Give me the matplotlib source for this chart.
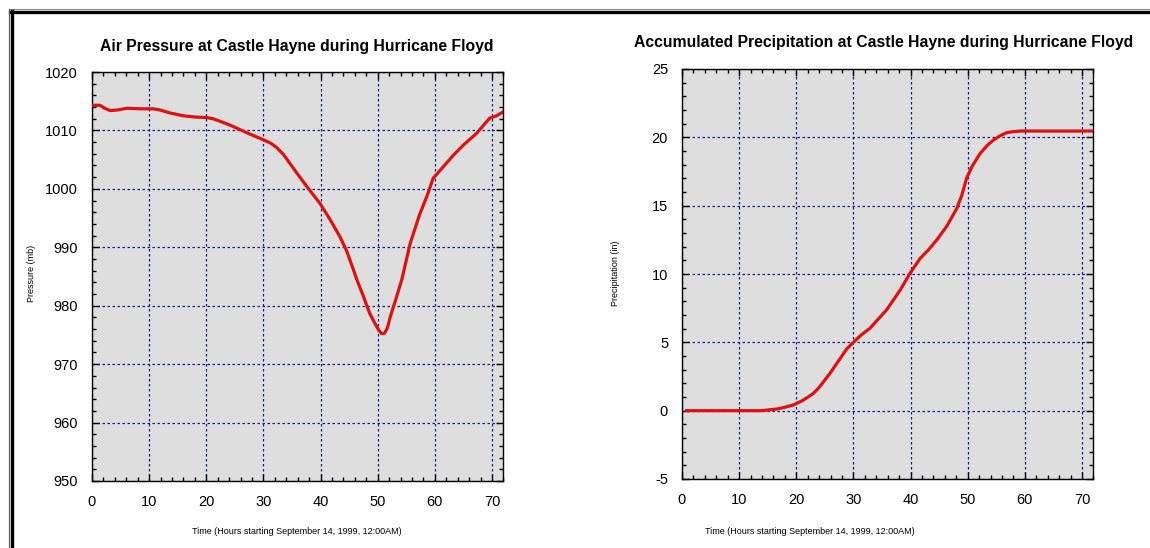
import matplotlib
matplotlib.use("Agg")
import matplotlib.pyplot as plt
from matplotlib.lines import Line2D
from matplotlib.ticker import MultipleLocator

plt.rcParams['font.family'] = ['Liberation Sans', 'DejaVu Sans']
plt.rcParams['axes.unicode_minus'] = False

# ---- data ----
p_hours = [0.2, 1.4, 2.2, 3.2, 4.5, 6.1, 8.5, 10.7, 11.9, 13.6, 16.0, 18.0, 20.1, 21.2,
           24.2, 27.1, 30.0, 31.3, 32.3, 33.5, 34.6, 36.0, 37.6, 39.9, 41.7, 43.4, 44.6,
           45.7, 46.3, 47.5, 48.6, 49.5, 50.2, 50.7, 51.2, 51.7, 52.2, 53.2, 54.2, 55.7,
           57.3, 58.6, 59.7, 61.5, 63.2, 65.0, 67.3, 69.6, 70.8, 72.0]
pressure = [1014.3, 1014.3, 1013.8, 1013.4, 1013.5, 1013.8, 1013.7, 1013.7, 1013.5,
            1013.0, 1012.5, 1012.3, 1012.2, 1012.0, 1010.9, 1009.6, 1008.4, 1007.8,
            1007.1, 1005.9, 1004.4, 1002.5, 1000.4, 997.5, 994.7, 991.8, 989.3,
            986.3, 984.6, 981.6, 978.7, 977.0, 975.8, 975.2, 975.3, 976.2, 978.1,
            981.2, 984.4, 990.7, 995.5, 998.7, 1001.8, 1003.8, 1005.7, 1007.5, 1009.5,
            1012.1, 1012.5, 1013.2]

r_hours = [0.8, 13.9, 16.6, 18.0, 19.5, 21.0, 22.0, 23.0, 24.0, 25.9, 27.0, 28.8, 30.0,
           31.4, 32.9, 35.8, 38.2, 39.9, 41.7, 43.2, 44.6, 46.3, 48.1, 49.0, 49.8,
           50.8, 52.2, 53.4, 54.5, 55.6, 56.8, 58.0, 59.2, 72.0]
precip = [0.0, 0.0, 0.12, 0.25, 0.42, 0.72, 0.98, 1.27, 1.7, 2.73, 3.4, 4.5, 5.0,
          5.55, 6.03, 7.37, 8.83, 10.05, 11.15, 11.8, 12.5, 13.47, 14.8, 15.8, 17.0,
          17.9, 18.83, 19.4, 19.8, 20.1, 20.34, 20.42, 20.46, 20.46]

xlabel = "Time (Hours starting September 14, 1999, 12:00AM)"
titles = ["Air Pressure at Castle Hayne during Hurricane Floyd",
          "Accumulated Precipitation at Castle Hayne during Hurricane Floyd"]
ylabels = ["Pressure (mb)", "Precipitation (in)"]

W, H = 1150, 548
fig = plt.figure(figsize=(W/100, H/100), dpi=100)
fig.patch.set_facecolor('white')

def fx(px): return px / W
def fy(py): return 1 - py / H

ax1 = fig.add_axes([fx(92), fy(481), (503.4-92)/W, (481-72)/H])
ax2 = fig.add_axes([fx(682), fy(479), (1093.4-682)/W, (479-69)/H])

grid_color = '#1a1a90'
line_color = '#e01010'

def style(ax, ylim, ymaj, ymin):
    ax.set_facecolor('#dedede')
    ax.set_xlim(0, 72)
    ax.set_ylim(*ylim)
    ax.xaxis.set_major_locator(MultipleLocator(10))
    ax.xaxis.set_minor_locator(MultipleLocator(2))
    ax.yaxis.set_major_locator(MultipleLocator(ymaj))
    ax.yaxis.set_minor_locator(MultipleLocator(ymin))
    ax.tick_params(which='both', direction='in', top=True, right=True, colors='black',
                   labelsize=10.5)
    ax.tick_params(which='major', length=5, width=1)
    ax.tick_params(which='minor', length=3, width=1)
    ax.tick_params(axis='x', pad=10)
    ax.tick_params(axis='y', pad=10)
    ax.grid(True, which='major', color=grid_color, linestyle=(0, (2, 2)), linewidth=0.9)
    ax.set_axisbelow(True)
    for s in ax.spines.values():
        s.set_linewidth(1.0)
        s.set_color('black')

style(ax1, (950, 1020), 10, 2)
style(ax2, (-5, 25), 5, 1)

ax1.plot(p_hours, pressure, color=line_color, lw=2.3, solid_joinstyle='round', zorder=3)
ax2.plot(r_hours, precip, color=line_color, lw=2.3, solid_joinstyle='round', zorder=3)

fig.text(fx(297), fy(46), titles[0], ha='center', va='center', fontsize=11.3, fontweight='bold')
fig.text(fx(884), fy(43), titles[1], ha='center', va='center', fontsize=11.3, fontweight='bold')
fig.text(fx(297), fy(532), xlabel, ha='center', va='center', fontsize=6.5)
fig.text(fx(810), fy(532), xlabel, ha='center', va='center', fontsize=6.5)
fig.text(fx(31), fy(273), ylabels[0], ha='center', va='center', rotation=90, fontsize=6.5)
fig.text(fx(616), fy(273), ylabels[1], ha='center', va='center', rotation=90, fontsize=6.5)

# frame lines
fig.add_artist(Line2D([fx(9), fx(1150)], [fy(8.5), fy(8.5)], color='#888888', lw=0.8))
fig.add_artist(Line2D([fx(10), fx(1150)], [fy(12), fy(12)], color='black', lw=2.4))
fig.add_artist(Line2D([fx(8.5), fx(8.5)], [fy(9), fy(548)], color='#555555', lw=0.8))
fig.add_artist(Line2D([fx(12), fx(12)], [fy(11), fy(548)], color='black', lw=2.4))

fig.savefig('out.png', dpi=100)
